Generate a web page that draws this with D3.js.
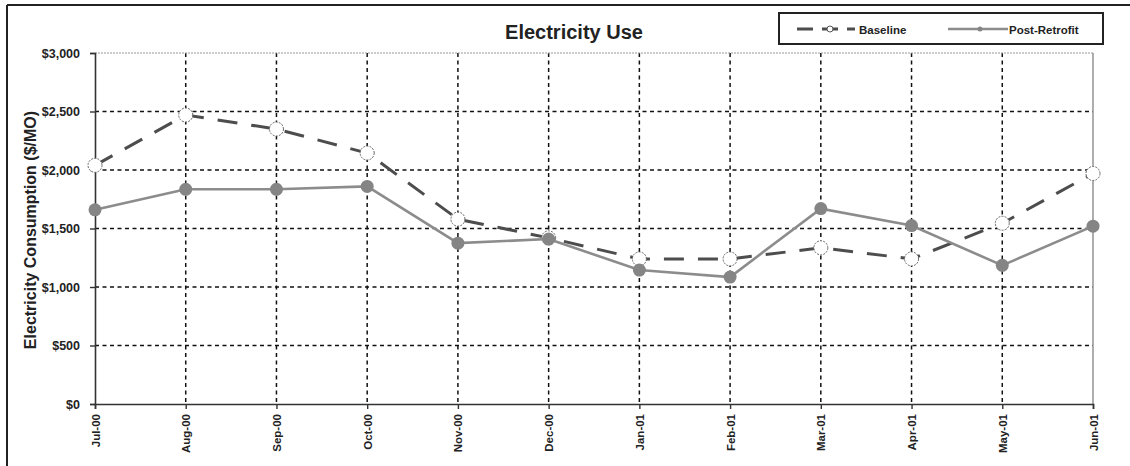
<!DOCTYPE html>
<html><head><meta charset="utf-8">
<script src="https://cdn.jsdelivr.net/npm/d3@7"></script>
<style>
html,body{margin:0;padding:0;background:#fff;}
svg{display:block;font-family:"Liberation Sans",Arial,sans-serif;}
</style></head>
<body><svg id="c" width="1130" height="466"></svg>
<script>
const months = ["Jul-00","Aug-00","Sep-00","Oct-00","Nov-00","Dec-00","Jan-01","Feb-01","Mar-01","Apr-01","May-01","Jun-01"];
const baseline = [2040, 2470, 2350, 2145, 1580, 1420, 1240, 1240, 1335, 1240, 1545, 1970];
const postRetrofit = [1660, 1835, 1835, 1860, 1375, 1410, 1145, 1085, 1670, 1525, 1185, 1520];
const yTicks = [0, 500, 1000, 1500, 2000, 2500, 3000];
const seriesNames = ["Baseline", "Post-Retrofit"];
const chartTitle = "Electricity Use";
const yTitle = "Electricity Consumption ($/MO)";

const svg = d3.select("#c");
const L = 95, R = 1093, T = 53, B = 404;
const x = d3.scalePoint().domain(months).range([L, R]).padding(0);
const y = d3.scaleLinear().domain([0, 3000]).range([B, T]);
const fmt = v => "$" + d3.format(",")(v);

// outer frame
svg.append("line").attr("x1",7).attr("x2",7).attr("y1",5).attr("y2",466).attr("stroke","#222").attr("stroke-width",2);
svg.append("line").attr("x1",7).attr("x2",1130).attr("y1",5).attr("y2",5).attr("stroke","#222").attr("stroke-width",2);

// gridlines
const g = svg.append("g");
g.selectAll(".hg").data(yTicks.filter(v => v > 0 && v < 3000)).join("line")
  .attr("x1", L).attr("x2", R).attr("y1", d => y(d)).attr("y2", d => y(d))
  .attr("stroke", "#111").attr("stroke-width", 1.5).attr("stroke-dasharray", "4,3.5");
g.selectAll(".vg").data(months.slice(1, -1)).join("line")
  .attr("x1", d => x(d)).attr("x2", d => x(d)).attr("y1", T).attr("y2", B)
  .attr("stroke", "#111").attr("stroke-width", 1.5).attr("stroke-dasharray", "4,3.5");

// plot border top (faint) & right
svg.append("line").attr("x1", L).attr("x2", R).attr("y1", T).attr("y2", T)
  .attr("stroke", "#999").attr("stroke-width", 1).attr("stroke-dasharray", "2,1");
svg.append("line").attr("x1", R).attr("x2", R).attr("y1", T).attr("y2", B)
  .attr("stroke", "#777").attr("stroke-width", 1.2);

// axes
const yAxis = svg.append("g").attr("transform", `translate(${L},0)`)
  .call(d3.axisLeft(y).tickValues(yTicks).tickFormat(fmt).tickSize(5).tickPadding(10));
yAxis.select(".domain").attr("stroke", "#333").attr("stroke-width", 1.6);
yAxis.selectAll(".tick line").attr("stroke", "#333").attr("stroke-width", 1.4);
yAxis.selectAll("text").attr("font-size", 12.5).attr("font-weight", "bold").attr("fill", "#222");

const xAxis = svg.append("g").attr("transform", `translate(0,${B})`)
  .call(d3.axisBottom(x).tickSize(5).tickPadding(6));
xAxis.select(".domain").attr("stroke", "#333").attr("stroke-width", 1.6);
xAxis.selectAll(".tick line").attr("stroke", "#333").attr("stroke-width", 1.4);
xAxis.selectAll("text").attr("font-size", 11.5).attr("font-weight", "bold").attr("fill", "#222")
  .attr("transform", "rotate(-90)").attr("text-anchor", "end").attr("dy", "0.35em")
  .attr("x", -10).attr("y", 0);

// lines
const line = d3.line().x((d, i) => x(months[i])).y(d => y(d));
svg.append("path").datum(baseline).attr("d", line).attr("fill", "none")
  .attr("stroke", "#4d4d4d").attr("stroke-width", 3).attr("stroke-dasharray", "20,14");
svg.append("g").selectAll("circle").data(baseline).join("circle")
  .attr("cx", (d, i) => x(months[i])).attr("cy", d => y(d)).attr("r", 7)
  .attr("fill", "#fff").attr("stroke", "#666").attr("stroke-width", 1).attr("stroke-dasharray", "2,1.2");

svg.append("path").datum(postRetrofit).attr("d", line).attr("fill", "none")
  .attr("stroke", "#8c8c8c").attr("stroke-width", 2.6);
svg.append("g").selectAll("circle").data(postRetrofit).join("circle")
  .attr("cx", (d, i) => x(months[i])).attr("cy", d => y(d)).attr("r", 6.5)
  .attr("fill", "#858585");

// title
svg.append("text").attr("x", 574).attr("y", 39).attr("text-anchor", "middle")
  .attr("font-size", 20).attr("font-weight", "bold").attr("fill", "#222").text(chartTitle);

// y title
svg.append("text").attr("transform", "translate(36,230) rotate(-90)").attr("text-anchor", "middle")
  .attr("font-size", 16).attr("font-weight", "bold").attr("fill", "#222").text(yTitle);

// legend
const lg = svg.append("g");
lg.append("rect").attr("x", 779).attr("y", 13).attr("width", 324).attr("height", 31)
  .attr("fill", "#fff").attr("stroke", "#222").attr("stroke-width", 2);
lg.append("line").attr("x1", 797).attr("x2", 855).attr("y1", 29).attr("y2", 29)
  .attr("stroke", "#4d4d4d").attr("stroke-width", 3).attr("stroke-dasharray", "16,9");
lg.append("circle").attr("cx", 830).attr("cy", 29).attr("r", 3).attr("fill", "#fff").attr("stroke", "#555");
lg.append("text").attr("x", 859).attr("y", 33.5).attr("font-size", 11.5).attr("font-weight", "bold").attr("fill", "#222").text(seriesNames[0]);
lg.append("line").attr("x1", 948).attr("x2", 1008).attr("y1", 29).attr("y2", 29)
  .attr("stroke", "#8c8c8c").attr("stroke-width", 2.6);
lg.append("circle").attr("cx", 980).attr("cy", 29).attr("r", 2.5).attr("fill", "#858585");
lg.append("text").attr("x", 1009).attr("y", 33.5).attr("font-size", 11.5).attr("font-weight", "bold").attr("fill", "#222").text(seriesNames[1]);
</script></body></html>
